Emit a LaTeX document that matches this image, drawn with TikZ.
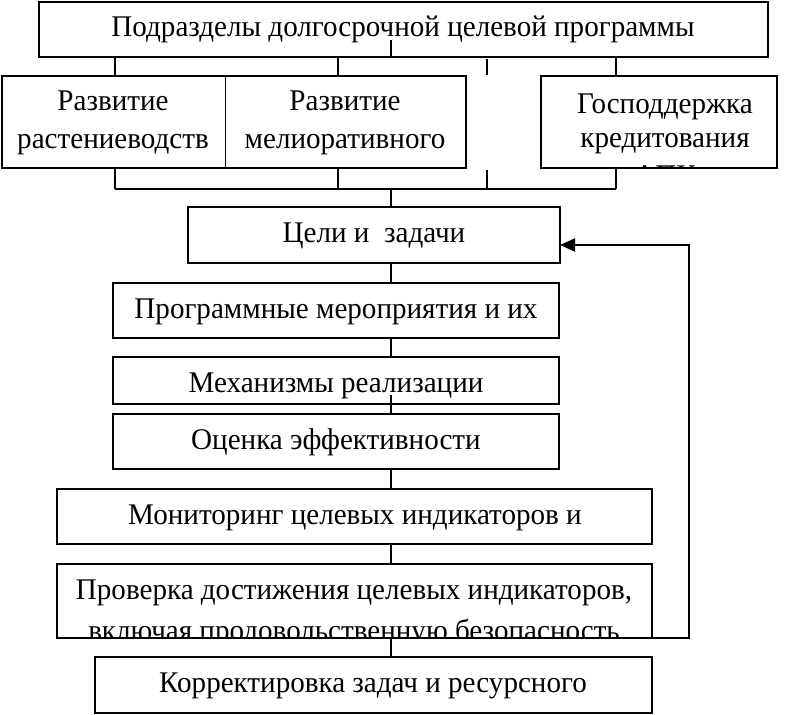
\documentclass[tikz,border=0pt]{standalone}
\usepackage{fontspec}
\setmainfont{Liberation Serif}[FakeStretch=0.97]
\usetikzlibrary{arrows.meta}
\tikzset{
  box/.style={draw, line width=2.2pt, rectangle, inner sep=0pt, outer sep=0pt},
  thinbox/.style={draw, line width=0.9pt, rectangle, inner sep=0pt, outer sep=0pt},
  txt/.style={inner sep=0pt, anchor=base, font=\fontsize{30}{30}\selectfont},
  conn/.style={line width=2pt},
  fb/.style={line width=2pt, -{Triangle[length=15pt,width=13pt]}}
}
\newcommand{\mkbox}[6]{% name, style, x1, y1, x2, y2
  \node[#2, minimum width={(#5-#3)*1pt}, minimum height={(#6-#4)*1pt}] (#1) at ({(#3+#5)/2},{(#4+#6)/2}) {};}
\begin{document}
\begin{tikzpicture}[x=1pt,y=-1pt]
\useasboundingbox (0,0) rectangle (790,715);
% boxes
\mkbox{top}{box}{39}{1.8}{768}{57}
\mkbox{rA}{thinbox}{2}{76}{225}{168}
\mkbox{rB}{thinbox}{225}{76}{466}{168}
\draw[line width=2.2pt] (rA.north west) rectangle (rB.south east);
\mkbox{rC}{box}{541}{76}{777}{168}
\mkbox{goals}{box}{188}{207}{560}{263}
\mkbox{prog}{box}{113}{283}{559}{338}
\mkbox{mech}{box}{113}{357}{559}{404}
\mkbox{eval}{box}{113}{414}{559}{469}
\mkbox{mon}{box}{57}{489}{652}{544}
\mkbox{check}{box}{57}{564}{652}{638}
\mkbox{corr}{box}{95}{657}{652}{713}
% texts
\node[txt] (tTop) at (403,36) {Подразделы долгосрочной целевой программы};
\node[txt] (tA1) at (113,110) {Развитие};
\node[txt] (tA2) at (113,148) {растениеводств};
\node[txt] (tB1) at (345,110) {Развитие};
\node[txt] (tB2) at (345,148) {мелиоративного};
\node[txt] (tC1) at (665,113) {Господдержка};
\node[txt] (tC2) at (665,147) {кредитования};
\begin{scope}
  \clip (rC.north west) rectangle (rC.south east);
  \node[txt] (tC3) at (665,185) {АПК};
\end{scope}
\node[txt] (tGoals) at (374,242) {Цели и~~задачи};
\node[txt] (tProg) at (336,318) {Программные мероприятия и их};
\node[txt] (tMech) at (336,392) {Механизмы реализации};
\node[txt] (tEval) at (336,449) {Оценка эффективности};
\node[txt] (tMon) at (355,524) {Мониторинг целевых индикаторов и};
\node[txt] (tCheck1) at (354,599) {Проверка достижения целевых индикаторов,};
\begin{scope}
  \clip (check.north west) rectangle (check.south east);
  \node[txt] (tCheck2) at (354,640) {включая продовольственную безопасность};
\end{scope}
\node[txt] (tCorr) at (373,692) {Корректировка задач и ресурсного};
% upper connectors
\foreach \x in {115,338,616} {
  \draw[conn] (\x,57) -- (\x,76);
  \draw[conn] (\x,168) -- (\x,189);
}
\coordinate (gapT1) at (487,59);
\coordinate (gapT2) at (487,75);
\coordinate (gapB1) at (487,170);
\coordinate (gapB2) at (487,189);
\draw[conn] (gapT1) -- (gapT2);
\draw[conn] (gapB1) -- (gapB2);
\coordinate (busL) at (115,189);
\coordinate (busR) at (616,189);
\draw[conn] (busL) -- (busR);
\coordinate (busM) at (391,189);
\draw[conn] (busM) -- (busM |- goals.north);
\coordinate (topTick) at (391,40);
\draw[conn] (topTick) -- (topTick |- top.south);
% spine
\draw[conn] (391,263) -- (391,283);
\draw[conn] (391,338) -- (391,357);
\coordinate (mechIn) at (391,395);
\draw[conn] (mechIn) -- (mechIn |- eval.north);
\draw[conn] (391,469) -- (391,489);
\draw[conn] (391,544) -- (391,564);
\draw[conn] (391,638) -- (391,657);
% feedback
\coordinate (fbA) at (689,638);
\coordinate (fbB) at (689,245);
\draw[fb] (check.south east) -- (fbA) -- (fbB) -- (fbB -| goals.east);
\end{tikzpicture}
\end{document}
